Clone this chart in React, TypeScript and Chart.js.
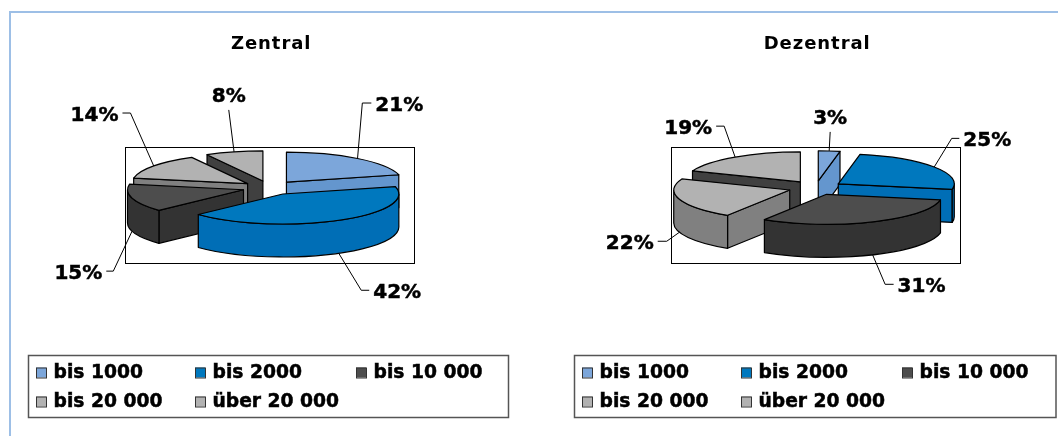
import React, { useEffect, useRef } from "react";
import { Chart, registerables, ArcElement, PieController } from "chart.js";

const categories = ["bis 1000", "bis 2000", "bis 10 000", "bis 20 000", "über 20 000"];
const zentralValues = [21, 42, 15, 14, 8];
const dezentralValues = [3, 25, 31, 22, 19];
const topColors = ["#7CA6DA", "#0078BE", "#4D4D4D", "#B2B2B2", "#B2B2B2"];
const sideColors = ["#6496CE", "#006EB6", "#333333", "#808080", "#404040"];

// Leader lines, relative to the slice rim: [elbow dx, elbow dy, tail dx]
const zentralLeaders = [[4.8, -55.5, 9], [22.5, 37, 8], [-18.8, 40, -7], [-23.3, -53, -8], [-5.3, -42, 0]];
const dezentralLeaders = [[1, -19, 0], [17.5, -28.6, 7.6], [12.5, 29.5, 8.5], [-12.7, 9, -9], [-11, -31, -8]];

const TILT = 0.2586;
const DEPTH = 33;
const RADIUS = 116;
const EXPLODE = 27.3;
const FONT = '"DejaVu Sans", Verdana, sans-serif';

class Arc3D extends ArcElement {
  static id = "arc3d";
  static defaults = { ...ArcElement.defaults };
  sideColor: string = "#000";

  apex() {
    const { x, y, startAngle, endAngle } = (this as any).getProps(["x", "y", "startAngle", "endAngle"]);
    const mid = (startAngle + endAngle) / 2;
    const off = (this as any).options.offset;
    return { ax: x + Math.cos(mid) * off, ay: y + Math.sin(mid) * off * TILT, mid, startAngle, endAngle };
  }

  rimAnchor() {
    const { ax, ay, mid } = this.apex();
    const r = (this as any).getProps(["outerRadius"]).outerRadius;
    const front = Math.sin(mid) > 0;
    return { x: ax + Math.cos(mid) * r, y: ay + Math.sin(mid) * r * TILT + (front ? DEPTH : 0) };
  }

  draw(ctx: CanvasRenderingContext2D) {
    const { ax, ay, startAngle: s, endAngle: e } = this.apex();
    const r = (this as any).getProps(["outerRadius"]).outerRadius;
    const o = (this as any).options;
    const px = (a: number) => ax + Math.cos(a) * r;
    const py = (a: number) => ay + Math.sin(a) * r * TILT;
    const ell = (a0: number, a1: number, dy: number, ccw = false) =>
      ctx.ellipse(ax, ay + dy, r, r * TILT, 0, a0, a1, ccw);

    ctx.save();
    ctx.lineWidth = 1.2;
    ctx.lineJoin = "round";
    ctx.strokeStyle = "#000";
    ctx.fillStyle = this.sideColor;

    const face = (a: number) => {
      ctx.beginPath();
      ctx.moveTo(ax, ay);
      ctx.lineTo(px(a), py(a));
      ctx.lineTo(px(a), py(a) + DEPTH);
      ctx.lineTo(ax, ay + DEPTH);
      ctx.closePath();
      ctx.fill();
      ctx.stroke();
    };
    if (Math.cos(e) > 0.001) face(e);
    if (Math.cos(s) < -0.001) face(s);

    const w0 = Math.max(s, 0);
    const w1 = Math.min(e, Math.PI);
    if (w1 > w0) {
      ctx.beginPath();
      ell(w0, w1, 0);
      ell(w1, w0, DEPTH, true);
      ctx.closePath();
      ctx.fill();
      ctx.stroke();
    }

    ctx.fillStyle = o.backgroundColor;
    ctx.beginPath();
    ctx.moveTo(ax, ay);
    ell(s, e, 0);
    ctx.closePath();
    ctx.fill();
    ctx.stroke();
    ctx.restore();
  }
}

class Pie3D extends PieController {
  static id = "pie3d";
  static defaults = { ...PieController.defaults, dataElementType: "arc3d" };

  draw() {
    const ctx = (this as any).chart.ctx;
    const meta = (this as any)._cachedMeta;
    const ds = (this as any).getDataset();
    const order = meta.data.map((el: any, i: number) => {
      el.sideColor = ds.sideColors[i];
      return el;
    });
    order.sort((a: any, b: any) => Math.sin(a.apex().mid) - Math.sin(b.apex().mid));
    order.forEach((el: any) => el.draw(ctx));
  }
}

Chart.register(...registerables, Arc3D as any, Pie3D as any);

const boldText = (ctx: CanvasRenderingContext2D, text: string, x: number, y: number) => {
  ctx.save();
  ctx.lineWidth = 0.5;
  ctx.strokeStyle = "#000";
  ctx.strokeText(text, x, y);
  ctx.restore();
  ctx.fillText(text, x, y);
};

const plot3d = {
  id: "plot3d",
  beforeDraw(chart: any) {
    chart.ctx.save();
    chart.ctx.translate(1.5, 0);
    chart.ctx.letterSpacing = "0.95px";
  },
  beforeDatasetsDraw(chart: any) {
    const ctx = chart.ctx;
    ctx.restore();
    const el = chart.getDatasetMeta(0).data[0];
    ctx.save();
    ctx.strokeStyle = "#000";
    ctx.lineWidth = 1;
    ctx.strokeRect(Math.round(el.x - 144.5) + 0.5, Math.round(el.y - 41) + 0.5, 289, 116);
    ctx.restore();
  },
  afterDatasetsDraw(chart: any, _a: any, opts: any) {
    const ctx = chart.ctx;
    const meta = chart.getDatasetMeta(0);
    const values = chart.data.datasets[0].data;
    ctx.save();
    ctx.font = `bold 20px ${FONT}`;
    ctx.fillStyle = "#000";
    ctx.strokeStyle = "#000";
    ctx.lineWidth = 1;
    meta.data.forEach((el: any, i: number) => {
      const a = el.rimAnchor();
      const [dx, dy, tail] = opts.leaders[i];
      const ex = a.x + dx;
      const ey = a.y + dy;
      ctx.beginPath();
      ctx.moveTo(a.x, a.y);
      ctx.lineTo(ex, ey);
      if (tail) ctx.lineTo(ex + tail, ey);
      ctx.stroke();
      const text = `${values[i]}%`;
      ctx.textBaseline = "middle";
      if (tail > 0) {
        ctx.textAlign = "left";
        boldText(ctx, text, ex + tail + 4, ey + 2.5);
      } else if (tail < 0) {
        ctx.textAlign = "right";
        boldText(ctx, text, ex + tail - 4, ey + 2.5);
      } else {
        ctx.textAlign = "center";
        boldText(ctx, text, ex, ey - 13);
      }
    });

    // Legend box
    const { x, y, w, h, cols } = opts.legend;
    ctx.strokeStyle = "#555";
    ctx.lineWidth = 1.5;
    ctx.strokeRect(x, y, w, h);
    ctx.font = `bold 18.7px ${FONT}`;
    ctx.textAlign = "left";
    ctx.textBaseline = "middle";
    chart.data.labels.forEach((label: string, i: number) => {
      const cx = Math.round(x + cols[i % 3]);
      const cy = y + (i < 3 ? 17 : 46);
      ctx.fillStyle = chart.data.datasets[0].backgroundColor[i];
      ctx.strokeStyle = "#333";
      ctx.lineWidth = 1;
      ctx.fillRect(cx, cy - 5, 10, 10);
      ctx.strokeRect(cx + 0.5, cy - 5 + 0.5, 10, 10);
      ctx.fillStyle = "#000";
      boldText(ctx, label, cx + 17.5, cy + 1);
    });
    ctx.restore();
  },
};

function makeConfig(title: string, values: number[], leaders: number[][], legend: any, left: number) {
  return {
    type: "pie3d",
    data: {
      labels: categories,
      datasets: [{ data: values, backgroundColor: topColors, sideColors, offset: EXPLODE, radius: RADIUS, borderWidth: 0 }],
    },
    options: {
      responsive: false,
      animation: false,
      radius: RADIUS,
      layout: { padding: { left, right: 0, top: 0, bottom: 116 } },
      events: [],
      plugins: {
        legend: { display: false },
        tooltip: { enabled: false },
        title: {
          display: true,
          text: title,
          color: "#000",
          font: { family: FONT, size: 18, weight: "bold", lineHeight: 1.2 },
          padding: { top: 34, bottom: 0 },
        },
        plot3d: { leaders, legend },
      },
    },
    plugins: [plot3d],
  } as any;
}

export default function App() {
  const a = useRef<HTMLCanvasElement>(null);
  const b = useRef<HTMLCanvasElement>(null);
  useEffect(() => {
    const c1 = new Chart(a.current!, makeConfig("Zentral", zentralValues, zentralLeaders, { x: 28.5, y: 355.5, w: 480, h: 62, cols: [7.6, 166.5, 327] }, 6.4));
    const c2 = new Chart(b.current!, makeConfig("Dezentral", dezentralValues, dezentralLeaders, { x: 41.5, y: 355.5, w: 481.5, h: 62, cols: [7.1, 166.5, 327] }, 40.4));
    return () => {
      c1.destroy();
      c2.destroy();
    };
  }, []);
  return (
    <div style={{ position: "absolute", left: 0, top: 0, width: 1058, height: 436, overflow: "hidden", background: "#fff" }}>
      <div style={{ position: "absolute", left: 9, top: 11, width: 1060, height: 440, borderLeft: "2px solid #9DBFE6", borderTop: "2px solid #9DBFE6" }} />
      <canvas ref={a} width={533} height={436} style={{ position: "absolute", left: 0, top: 0 }} />
      <canvas ref={b} width={525} height={436} style={{ position: "absolute", left: 533, top: 0 }} />
    </div>
  );
}
